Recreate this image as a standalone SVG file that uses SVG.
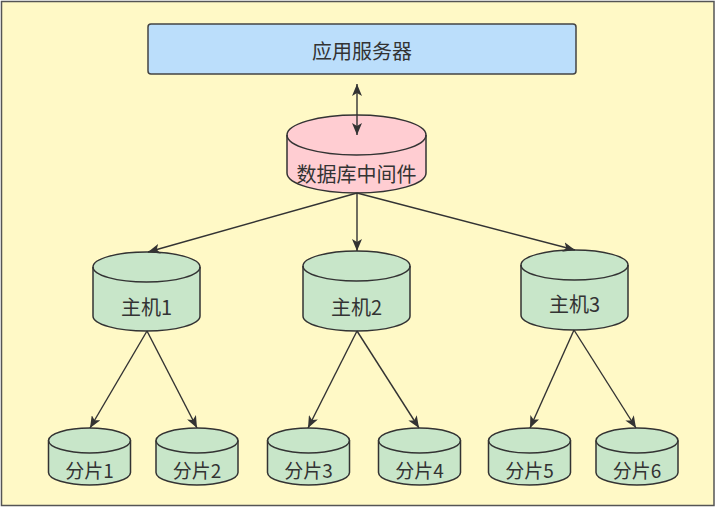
<svg xmlns="http://www.w3.org/2000/svg" width="717" height="509" viewBox="0 0 717 509">
<defs>
<style>
.cyl{stroke:#333;stroke-width:1.5}
.g{fill:#c8e6c9}
.p{fill:#ffcdd2}
.in{fill:none;stroke:#333;stroke-width:1.5}
.t{font-family:"Noto Sans CJK SC","Microsoft YaHei",sans-serif;fill:#333;text-anchor:middle;dominant-baseline:central}
.e{stroke:#333;stroke-width:1.4;fill:none}
</style>
<marker id="ah" viewBox="0 0 12 10" refX="12" refY="5" markerWidth="12" markerHeight="10" markerUnits="userSpaceOnUse" orient="auto-start-reverse">
<path d="M0,0 L12,5 L0,10 L3,5 Z" fill="#333"/>
</marker>
</defs>
<rect x="1.5" y="1.5" width="712.5" height="504" fill="#fff9c6" stroke="#555" stroke-width="1.5"/>

<g id="app">
<rect x="148" y="24" width="428" height="50" rx="3" fill="#bbdefb" stroke="#444" stroke-width="1.5"/>
<text class="t" x="362" y="50" font-size="20">应用服务器</text>
</g>

<g id="middleware">
<path class="cyl p" d="M287,135 A69.5,20 0 0 1 426,135 L426,173 A69.5,20 0 0 1 287,173 Z"/>
<path class="in" d="M287,135 A69.5,20 0 0 0 426,135"/>
<text class="t" x="356.5" y="173" font-size="20">数据库中间件</text>
</g>

<g id="host1">
<path class="cyl g" d="M93,267 A53.5,15 0 0 1 200,267 L200,316 A53.5,15 0 0 1 93,316 Z"/>
<path class="in" d="M93,267 A53.5,15 0 0 0 200,267"/>
<text class="t" x="146.5" y="306" font-size="20">主机1</text>
</g>
<g id="host2">
<path class="cyl g" d="M303,266 A53.5,15 0 0 1 410,266 L410,316 A53.5,15 0 0 1 303,316 Z"/>
<path class="in" d="M303,266 A53.5,15 0 0 0 410,266"/>
<text class="t" x="356.5" y="306" font-size="20">主机2</text>
</g>
<g id="host3">
<path class="cyl g" d="M521,265 A53.5,15 0 0 1 628,265 L628,315 A53.5,15 0 0 1 521,315 Z"/>
<path class="in" d="M521,265 A53.5,15 0 0 0 628,265"/>
<text class="t" x="574.5" y="303" font-size="20">主机3</text>
</g>

<g id="shard1">
<path class="cyl g" d="M48.5,440.5 A41,12.5 0 0 1 130.5,440.5 L130.5,472.5 A41,12.5 0 0 1 48.5,472.5 Z"/>
<path class="in" d="M48.5,440.5 A41,12.5 0 0 0 130.5,440.5"/>
<text class="t" x="89.5" y="469" font-size="19">分片1</text>
</g>
<g id="shard2">
<path class="cyl g" d="M156,440.5 A41,12.5 0 0 1 238,440.5 L238,472.5 A41,12.5 0 0 1 156,472.5 Z"/>
<path class="in" d="M156,440.5 A41,12.5 0 0 0 238,440.5"/>
<text class="t" x="197" y="469" font-size="19">分片2</text>
</g>
<g id="shard3">
<path class="cyl g" d="M267.5,440.5 A41,12.5 0 0 1 349.5,440.5 L349.5,472.5 A41,12.5 0 0 1 267.5,472.5 Z"/>
<path class="in" d="M267.5,440.5 A41,12.5 0 0 0 349.5,440.5"/>
<text class="t" x="308.5" y="469" font-size="19">分片3</text>
</g>
<g id="shard4">
<path class="cyl g" d="M378.5,440.5 A41,12.5 0 0 1 460.5,440.5 L460.5,472.5 A41,12.5 0 0 1 378.5,472.5 Z"/>
<path class="in" d="M378.5,440.5 A41,12.5 0 0 0 460.5,440.5"/>
<text class="t" x="419.5" y="469" font-size="19">分片4</text>
</g>
<g id="shard5">
<path class="cyl g" d="M488.5,440.5 A41,12.5 0 0 1 570.5,440.5 L570.5,472.5 A41,12.5 0 0 1 488.5,472.5 Z"/>
<path class="in" d="M488.5,440.5 A41,12.5 0 0 0 570.5,440.5"/>
<text class="t" x="529.5" y="469" font-size="19">分片5</text>
</g>
<g id="shard6">
<path class="cyl g" d="M596,440.5 A41,12.5 0 0 1 678,440.5 L678,472.5 A41,12.5 0 0 1 596,472.5 Z"/>
<path class="in" d="M596,440.5 A41,12.5 0 0 0 678,440.5"/>
<text class="t" x="637" y="469" font-size="19">分片6</text>
</g>

<g id="connectors">
<line class="e" x1="357" y1="84" x2="357" y2="135" marker-start="url(#ah)" marker-end="url(#ah)"/>
<line class="e" x1="357" y1="193" x2="148" y2="252" marker-end="url(#ah)"/>
<line class="e" x1="357" y1="193" x2="357" y2="251" marker-end="url(#ah)"/>
<line class="e" x1="357" y1="193" x2="575" y2="250" marker-end="url(#ah)"/>
<line class="e" x1="147" y1="331" x2="90" y2="428" marker-end="url(#ah)"/>
<line class="e" x1="147" y1="331" x2="197" y2="428" marker-end="url(#ah)"/>
<line class="e" x1="357" y1="331" x2="308" y2="428" marker-end="url(#ah)"/>
<line class="e" x1="357" y1="331" x2="419" y2="428" marker-end="url(#ah)"/>
<line class="e" x1="574" y1="330" x2="530" y2="428" marker-end="url(#ah)"/>
<line class="e" x1="574" y1="330" x2="636" y2="428" marker-end="url(#ah)"/>
</g>
</svg>
